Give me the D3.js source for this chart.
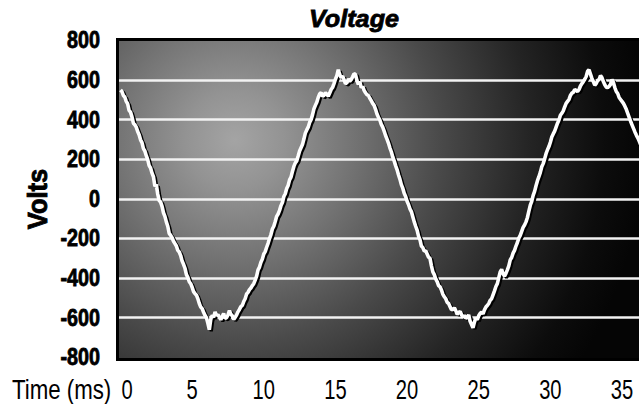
<!DOCTYPE html>
<html><head><meta charset="utf-8">
<script src="https://cdn.jsdelivr.net/npm/d3@7"></script>
<style>
html,body{margin:0;padding:0;background:#fff;}
svg{display:block;}
</style></head>
<body>
<svg id="chart" width="639" height="404"></svg>
<script>
// ---- data ----
const chartTitle = "Voltage";
const yAxisLabel = "Volts";
const xAxisLabel = "Time (ms)";
const yTicks = [800, 600, 400, 200, 0, -200, -400, -600, -800];
const xTicks = [0, 5, 10, 15, 20, 25, 30, 35];
const sampleStepMs = 0.1;
// voltage samples, one every 0.1 ms starting at 0 ms
const voltage = [
 548, 540, 520, 512, 490, 478, 445, 436, 412, 380,
 372, 360, 338, 322, 296, 282, 252, 240, 216, 196,
 166, 154, 128, 110, 62, 70, 22, -10, -18, -40,
 -72, -90, -118, -140, -176, -186, -198, -216, -228, -240,
 -262, -270, -288, -316, -332, -352, -384, -398, -420, -430,
 -448, -470, -480, -488, -506, -530, -548, -556, -574, -590,
 -602, -630, -662, -610, -590, -600, -572, -590, -586, -598,
 -612, -596, -580, -604, -602, -588, -566, -584, -592, -610,
 -600, -588, -572, -560, -546, -540, -520, -506, -482, -474,
 -460, -452, -440, -430, -412, -392, -360, -346, -322, -306,
 -280, -268, -246, -226, -202, -182, -154, -140, -116, -90,
 -78, -60, -36, -20, 10, 24, 50, 66, 94, 108,
 136, 162, 180, 190, 214, 240, 256, 272, 300, 330,
 346, 360, 384, 398, 422, 452, 470, 486, 510, 528,
 534, 516, 520, 534, 526, 516, 532, 550, 560, 580,
 602, 620, 650, 626, 610, 618, 600, 580, 584, 604,
 592, 600, 614, 630, 626, 596, 576, 590, 560, 566,
 546, 534, 524, 520, 506, 494, 480, 470, 450, 426,
 410, 396, 374, 360, 340, 318, 300, 280, 256, 236,
 210, 190, 166, 146, 120, 98, 70, 52, 26, 10,
 -14, -30, -52, -66, -92, -118, -140, -160, -190, -208,
 -240, -248, -266, -264, -280, -296, -302, -340, -370, -384,
 -406, -420, -440, -446, -462, -484, -496, -506, -524, -530,
 -546, -562, -560, -552, -566, -584, -576, -570, -586, -600,
 -590, -604, -600, -588, -620, -636, -652, -624, -604, -612,
 -592, -580, -574, -582, -562, -548, -540, -530, -514, -506,
 -486, -466, -444, -430, -400, -370, -358, -380, -392, -378,
 -360, -340, -310, -298, -276, -262, -240, -222, -200, -186,
 -166, -146, -134, -118, -96, -64, -34, -14, 16, 36,
 64, 90, 110, 132, 160, 176, 200, 226, 246, 262,
 284, 310, 326, 340, 360, 380, 396, 420, 430, 442,
 462, 480, 490, 500, 520, 532, 536, 550, 546, 540,
 550, 568, 580, 590, 602, 616, 642, 650, 628, 606,
 590, 572, 580, 596, 600, 620, 610, 590, 574, 562,
 560, 566, 576, 600, 586, 560, 540, 530, 510, 500,
 490, 480, 466, 450, 430, 410, 390, 372, 354, 336,
 320, 306, 290, 272, 256
];

// ---- layout ----
const svg = d3.select("#chart");
const plot = {left: 119, top: 41, right: 700, bottom: 358};

const x = d3.scaleLinear().domain([0, 35]).range([120.5, 622]);
const y = d3.scaleLinear().domain([-800, 800]).range([357, 40]);

const defs = svg.append("defs");
const grad = defs.append("radialGradient")
  .attr("id", "bg").attr("gradientUnits", "userSpaceOnUse")
  .attr("cx", 235).attr("cy", 140).attr("r", 410).attr("fx", 235).attr("fy", 140);
[[0, "#a4a4a4"], [0.12, "#939393"], [0.28, "#757575"], [0.5, "#4a4a4a"], [0.72, "#242424"], [0.9, "#0c0c0c"], [1, "#050505"]]
  .forEach(([o, c]) => grad.append("stop").attr("offset", o).attr("stop-color", c));

defs.append("clipPath").attr("id", "clip")
  .append("rect").attr("x", plot.left).attr("y", plot.top)
  .attr("width", plot.right - plot.left).attr("height", plot.bottom - plot.top);

// background
svg.append("rect").attr("x", plot.left).attr("y", plot.top)
  .attr("width", plot.right - plot.left).attr("height", plot.bottom - plot.top)
  .attr("fill", "url(#bg)");

// gridlines
const gridVals = yTicks.filter(v => v !== 800 && v !== -800);
svg.append("g").attr("clip-path", "url(#clip)")
  .selectAll("line").data(gridVals).join("line")
  .attr("x1", plot.left).attr("x2", plot.right)
  .attr("y1", d => Math.round(y(d)) + 0.5).attr("y2", d => Math.round(y(d)) + 0.5)
  .attr("stroke", "#f2f2f2").attr("stroke-width", 2.4);

// trace
const pts = voltage.map((v, i) => [i * sampleStepMs, v]);
const line = d3.line().x(d => x(d[0])).y(d => y(d[1]));
const tg = svg.append("g").attr("clip-path", "url(#clip)");
tg.append("path").datum(pts).attr("d", line)
  .attr("fill", "none").attr("stroke", "#000").attr("stroke-width", 3.2)
  .attr("stroke-linejoin", "bevel").attr("transform", "translate(2,1.5)");
tg.append("path").datum(pts).attr("d", line)
  .attr("fill", "none").attr("stroke", "#fff").attr("stroke-width", 3.6)
  .attr("stroke-linejoin", "bevel");

// border
svg.append("rect").attr("x", plot.left - 1.5).attr("y", plot.top - 1.5)
  .attr("width", plot.right - plot.left + 3).attr("height", plot.bottom - plot.top + 3)
  .attr("fill", "none").attr("stroke", "#000").attr("stroke-width", 3);

const sans = "'Liberation Sans', Arial, sans-serif";

// y axis labels (condensed black)
const yAxis = d3.axisLeft(y).tickValues(yTicks).tickSize(0).tickPadding(0).tickFormat(d => String(d));
const yg = svg.append("g").call(yAxis);
yg.select(".domain").remove();
yg.selectAll(".tick").attr("transform", d => `translate(100,${y(d) + 8.3}) scale(0.86,1)`);
yg.selectAll("text").attr("x", 0).attr("dy", 0)
  .attr("font-family", sans).attr("font-weight", "bold")
  .attr("font-size", 23).attr("fill", "#000")
  .attr("stroke", "#000").attr("stroke-width", 0.8);

svg.append("text").attr("transform", "translate(47,199) rotate(-90) scale(0.91,1)")
  .attr("text-anchor", "middle").attr("font-family", sans).attr("font-weight", "bold")
  .attr("font-size", 28).attr("fill", "#000").attr("stroke", "#000").attr("stroke-width", 0.9)
  .text(yAxisLabel);

// x axis labels (condensed light)
const xAxis = d3.axisBottom(x).tickValues(xTicks).tickSize(0).tickPadding(0);
const xg = svg.append("g").call(xAxis);
xg.select(".domain").remove();
xg.selectAll(".tick").attr("transform", d => `translate(${x(d) + (d === 0 ? 6.5 : 0)},398.5) scale(0.72,1)`);
xg.selectAll("text").attr("y", 0).attr("dy", 0)
  .attr("font-family", sans).attr("font-weight", "normal")
  .attr("font-size", 28).attr("fill", "#000");

svg.append("text").attr("transform", "translate(12,398.5) scale(0.795,1)")
  .attr("font-family", sans).attr("font-size", 28).attr("fill", "#000")
  .text(xAxisLabel);

// title
svg.append("text").attr("transform", "translate(354,27) scale(1.05,1)").attr("text-anchor", "middle")
  .attr("font-family", sans).attr("font-weight", "bold").attr("font-style", "italic")
  .attr("font-size", 24).attr("fill", "#000").attr("stroke", "#000").attr("stroke-width", 0.8)
  .text(chartTitle);
</script>
</body></html>
